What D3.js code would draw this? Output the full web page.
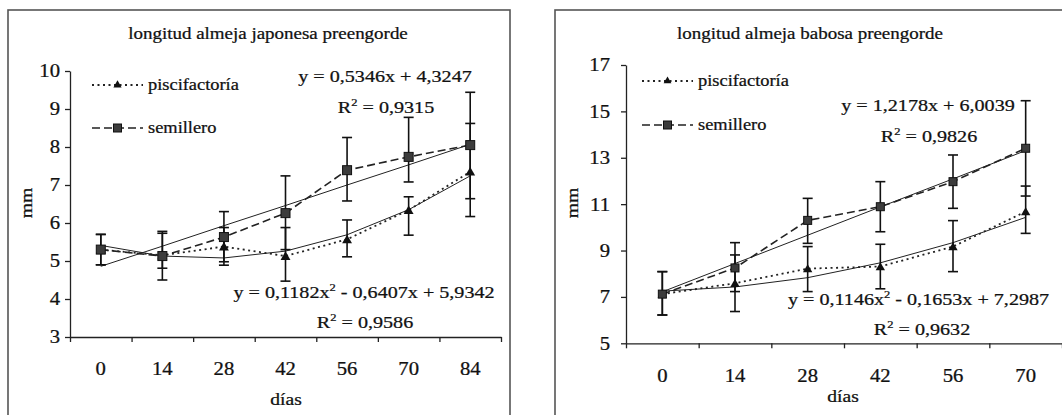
<!DOCTYPE html>
<html><head><meta charset="utf-8">
<script src="https://cdn.jsdelivr.net/npm/d3@7"></script>
<style>
body{margin:0;background:#fff}
svg{display:block;background:#fff}
</style>
</head><body>
<svg id="c" width="1062" height="415" font-family="'Liberation Serif', serif"></svg>
<script>
// ---------- data ----------
const titleA = "longitud almeja japonesa preengorde";
const titleB = "longitud almeja babosa preengorde";
const seriesNames = ["piscifactoría", "semillero"];
const xTitle = "días";
const yTitle = "mm";

const daysA = ["0","14","28","42","56","70","84"];
const yTicksA = [3,4,5,6,7,8,9,10];
const pisciA = [5.30, 5.15, 5.38, 5.13, 5.57, 6.34, 7.35];
const pisciA_hi = [5.70, 5.73, 5.88, 5.88, 6.08, 6.69, 8.62];
const pisciA_lo = [4.90, 4.81, 4.89, 4.47, 5.11, 5.68, 6.17];
const semA = [5.30, 5.13, 5.63, 6.26, 7.39, 7.74, 8.05];
const semA_hi = [5.70, 5.78, 6.30, 7.24, 8.25, 8.78, 9.44];
const semA_lo = [4.90, 4.50, 4.98, 5.30, 6.58, 7.08, 6.64];
const trendSemA = [4.86, 5.39, 5.93, 6.46, 7.00, 7.53, 8.07];
const trendPisciA = [5.41, 5.13, 5.08, 5.26, 5.69, 6.35, 7.24];
const eqSemA = ["y = 0,5346x + 4,3247", "0,9315"];
const eqPisciA = ["y = 0,1182x", " - 0,6407x + 5,9342", "0,9586"];

const daysB = ["0","14","28","42","56","70"];
const yTicksB = [5,7,9,11,13,15,17];
const pisciB = [7.12, 7.59, 8.22, 8.31, 9.17, 10.68];
const pisciB_hi = [8.09, 8.81, 9.17, 9.27, 10.29, 11.78];
const pisciB_lo = [6.22, 6.37, 7.23, 7.35, 8.09, 9.74];
const semB = [7.12, 8.25, 10.30, 10.89, 11.97, 13.41];
const semB_hi = [8.09, 9.34, 11.25, 11.97, 13.12, 15.46];
const semB_lo = [6.22, 7.23, 9.31, 9.81, 10.82, 11.35];
const trendSemB = [7.22, 8.44, 9.66, 10.88, 12.09, 13.31];
const trendPisciB = [7.25, 7.43, 7.83, 8.47, 9.34, 10.43];
const eqSemB = ["y = 1,2178x + 6,0039", "0,9826"];
const eqPisciB = ["y = 0,1146x", " - 0,1653x + 7,2987", "0,9632"];

// ---------- drawing ----------
const SX = 1.15;
const FONT = "'Liberation Serif', serif";
const svg = d3.select("#c");

function styleText(sel) {
  return sel.attr("font-family", FONT).attr("fill", "#111")
    .attr("stroke", "#111").attr("stroke-width", 0.25);
}
function stext(g, x, y, fs, anchor, rot) {
  return styleText(g.append("text"))
    .attr("transform", `translate(${x},${y})${rot ? " rotate(" + rot + ")" : ""} scale(${SX},1)`)
    .attr("font-size", fs).attr("text-anchor", anchor || "start");
}
function supText(g, x, y, fs, anchor, parts) {
  const t = stext(g, x, y, fs, anchor);
  t.append("tspan").text(parts[0]);
  t.append("tspan").attr("font-size", fs * 0.62).attr("dy", -fs * 0.42).text(parts[1]);
  t.append("tspan").attr("dy", fs * 0.42).text(parts[2]);
  return t;
}

function drawChart(cfg) {
  const g = svg.append("g");
  g.append("rect").attr("x", cfg.fx).attr("y", cfg.fy).attr("width", cfg.fw).attr("height", cfg.fh)
    .attr("fill", "none").attr("stroke", "#555").attr("stroke-width", 1.6);

  const x = d3.scaleBand().domain(cfg.cats).range([cfg.x0, cfg.x1]);
  const xi = d3.scaleLinear().domain([0, cfg.cats.length]).range([cfg.x0, cfg.x1]);
  const y = d3.scaleLinear().domain(cfg.ydom).range([cfg.yb, cfg.yt]);
  const cx = c => x(c) + x.bandwidth() / 2;

  stext(g, cfg.titleX, 39, 16.5, "middle").text(cfg.title);

  const ya = g.append("g").attr("transform", `translate(${cfg.x0},0)`)
    .call(d3.axisLeft(y).tickValues(cfg.yticks).tickSize(5).tickSizeOuter(0).tickFormat(d3.format("d")));
  ya.attr("font-family", FONT).attr("font-size", 18);
  ya.selectAll("path,line").attr("stroke", "#222").attr("stroke-width", 1.3);
  styleText(ya.selectAll("text")).attr("font-size", 18)
    .attr("x", -cfg.ypad / SX).attr("dy", "0.33em")
    .attr("transform", `scale(${SX},1)`);

  const xa = g.append("g").attr("transform", `translate(0,${cfg.yb})`)
    .call(d3.axisBottom(xi).tickValues(d3.range(cfg.cats.length + 1)).tickSize(5).tickSizeOuter(0).tickFormat(""));
  xa.selectAll("path,line").attr("stroke", "#222").attr("stroke-width", 1.3);

  const xl = g.append("g").attr("transform", `translate(0,${cfg.yb})`)
    .call(d3.axisBottom(x).tickSize(0));
  xl.attr("font-family", FONT).attr("font-size", 18);
  xl.select(".domain").remove();
  styleText(xl.selectAll("text")).attr("font-size", 18)
    .attr("y", cfg.xlabY).attr("dy", 0)
    .attr("transform", `scale(${SX},1)`);

  stext(g, cfg.xTitleX, cfg.xTitleY, 17, "middle").text(xTitle);
  stext(g, cfg.yTitleX, 203, 17, "middle", -90).text(yTitle);

  const line = d3.line().x((d, i) => cx(cfg.cats[i])).y(d => y(d));

  [cfg.trendSem, cfg.trendPisci].forEach(tr => {
    g.append("path").attr("d", line(tr)).attr("fill", "none").attr("stroke", "#222").attr("stroke-width", 1);
  });

  g.append("path").attr("d", line(cfg.pisci)).attr("fill", "none").attr("stroke", "#222")
    .attr("stroke-width", 1.8).attr("stroke-dasharray", "2,3.5");
  g.append("path").attr("d", line(cfg.sem)).attr("fill", "none").attr("stroke", "#222")
    .attr("stroke-width", 1.6).attr("stroke-dasharray", "8,4");

  const cap = cfg.cap;
  [[cfg.pisci_lo, cfg.pisci_hi], [cfg.sem_lo, cfg.sem_hi]].forEach(([lo, hi]) => {
    const eg = g.append("g").attr("stroke", "#111").attr("stroke-width", 1.6);
    cfg.cats.forEach((c, i) => {
      const xc = cx(c);
      eg.append("line").attr("x1", xc).attr("x2", xc).attr("y1", y(lo[i])).attr("y2", y(hi[i]));
      eg.append("line").attr("x1", xc - cap).attr("x2", xc + cap).attr("y1", y(lo[i])).attr("y2", y(lo[i]));
      eg.append("line").attr("x1", xc - cap).attr("x2", xc + cap).attr("y1", y(hi[i])).attr("y2", y(hi[i]));
    });
  });

  const tri = d3.symbol(d3.symbolTriangle).size(cfg.triSize);
  g.append("g").selectAll("path").data(cfg.pisci).join("path")
    .attr("d", tri).attr("transform", (d, i) => `translate(${cx(cfg.cats[i])},${y(d) + 1})`)
    .attr("fill", "#111");
  g.append("g").selectAll("rect").data(cfg.sem).join("rect")
    .attr("x", (d, i) => cx(cfg.cats[i]) - cfg.sq / 2).attr("y", d => y(d) - cfg.sq / 2)
    .attr("width", cfg.sq).attr("height", cfg.sq)
    .attr("fill", "#3c3c3c").attr("stroke", "#111").attr("stroke-width", 1);

  const L = cfg.leg;
  const lg = g.append("g");
  lg.append("line").attr("x1", L.x).attr("x2", L.x + 51).attr("y1", L.y1).attr("y2", L.y1)
    .attr("stroke", "#222").attr("stroke-width", 1.8).attr("stroke-dasharray", "2,3.5");
  lg.append("path").attr("d", d3.symbol(d3.symbolTriangle).size(cfg.triSize * 0.7)())
    .attr("transform", `translate(${L.x + 25.5},${L.y1})`).attr("fill", "#111");
  lg.append("line").attr("x1", L.x).attr("x2", L.x + 51).attr("y1", L.y2).attr("y2", L.y2)
    .attr("stroke", "#222").attr("stroke-width", 1.6).attr("stroke-dasharray", "8,4");
  lg.append("rect").attr("x", L.x + 25.5 - 4).attr("y", L.y2 - 4).attr("width", 8).attr("height", 8)
    .attr("fill", "#3c3c3c").attr("stroke", "#111");
  stext(lg, L.x + 56, L.y1 + 5, 16, "start").text(seriesNames[0]);
  stext(lg, L.x + 56, L.y2 + 5, 16, "start").text(seriesNames[1]);

  const E = cfg.eq;
  stext(g, E.s1x, E.s1y, 17.5, E.s1a).text(cfg.eqSem[0]);
  supText(g, E.s2x, E.s2y, 17.5, "middle", ["R", "2", " = " + cfg.eqSem[1]]);
  supText(g, E.p1x, E.p1y, 17.5, E.p1a, [cfg.eqPisci[0], "2", cfg.eqPisci[1]]);
  supText(g, E.p2x, E.p2y, 17.5, "middle", ["R", "2", " = " + cfg.eqPisci[2]]);
}

drawChart({
  title: titleA, titleX: 268,
  fx: 8, fy: 10, fw: 502, fh: 430,
  x0: 70, x1: 501, yb: 337, yt: 71, ydom: [3, 10], yticks: yTicksA, ypad: 10,
  cats: daysA, xlabY: 38, xTitleX: 286, xTitleY: 405, yTitleX: 32,
  pisci: pisciA, pisci_hi: pisciA_hi, pisci_lo: pisciA_lo,
  sem: semA, sem_hi: semA_hi, sem_lo: semA_lo,
  trendSem: trendSemA, trendPisci: trendPisciA,
  eqSem: eqSemA, eqPisci: eqPisciA,
  cap: 5, sq: 9, triSize: 42,
  leg: {x: 92, y1: 85, y2: 128},
  eq: {s1x: 385, s1y: 82, s1a: "middle", s2x: 386, s2y: 113,
       p1x: 364, p1y: 298, p1a: "middle", p2x: 365, p2y: 328}
});

drawChart({
  title: titleB, titleX: 810,
  fx: 555, fy: 10, fw: 530, fh: 430,
  x0: 626, x1: 1062, yb: 343.3, yt: 65, ydom: [5, 17], yticks: yTicksB, ypad: 16,
  cats: daysB, xlabY: 39, xTitleX: 843, xTitleY: 402, yTitleX: 578,
  pisci: pisciB, pisci_hi: pisciB_hi, pisci_lo: pisciB_lo,
  sem: semB, sem_hi: semB_hi, sem_lo: semB_lo,
  trendSem: trendSemB, trendPisci: trendPisciB,
  eqSem: eqSemB, eqPisci: eqPisciB,
  cap: 5, sq: 8, triSize: 38,
  leg: {x: 642, y1: 81, y2: 125},
  eq: {s1x: 928, s1y: 111, s1a: "middle", s2x: 929, s2y: 142,
       p1x: 788, p1y: 305, p1a: "start", p2x: 922, p2y: 335}
});
</script>
</body></html>
